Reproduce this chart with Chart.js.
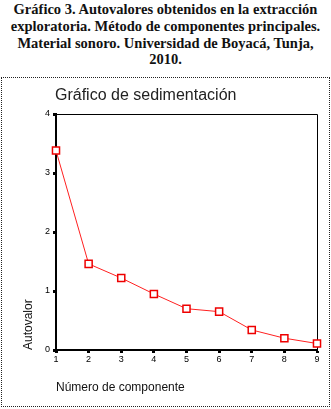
<!DOCTYPE html>
<html>
<head>
<meta charset="utf-8">
<script src="https://cdn.jsdelivr.net/npm/chart.js@4"></script>
<style>
    body { margin: 0; background: #fff; }
    #caption {
        position: absolute; left: 0; top: 1px; width: 331px;
        text-align: center; font: bold 14.5px "Liberation Serif", "Times New Roman", serif;
        line-height: 16.8px; color: #111; white-space: nowrap;
    }
    #box {
        position: absolute; left: 1px; top: 77px; width: 327px; height: 328px;
        border: 1px dotted #222;
    }
    #chart-title {
        position: absolute; left: 53px; top: 8px;
        font: 16px "Liberation Sans", Arial, sans-serif; color: #222;
    }
    #wrap { position: absolute; left: 1px; top: 1px; width: 327px; height: 327px; }
</style>
</head>
<body>
<div id="caption">Gráfico 3. Autovalores obtenidos en la extracción<br>exploratoria. Método de componentes principales.<br>Material sonoro. Universidad de Boyacá, Tunja,<br>2010.</div>
<div id="box">
    <div id="wrap"><canvas id="scree-chart"></canvas></div>
    <div id="chart-title">Gráfico de sedimentación</div>
</div>
<script>
// components and eigenvalues
var components = ["1", "2", "3", "4", "5", "6", "7", "8", "9"];
var eigenvalues = [3.38, 1.46, 1.22, 0.95, 0.70, 0.65, 0.34, 0.20, 0.11];
var yMax = 4;

// top and right lines of the plot frame
const frame = {
    id: 'frame',
    beforeDatasetsDraw: function(chart) {
        var a = chart.chartArea, ctx = chart.ctx;
        ctx.save();
        ctx.strokeStyle = '#000';
        ctx.lineWidth = 1;
        ctx.beginPath();
        ctx.moveTo(a.left, a.top + 0.5);
        ctx.lineTo(a.right + 0.5, a.top + 0.5);
        ctx.lineTo(a.right + 0.5, a.bottom);
        ctx.stroke();
        ctx.restore();
    }
};

const config = {
    type: 'line',
    data: {
        labels: components,
        datasets: [{
            data: eigenvalues,
            borderColor: '#ff2020',
            borderWidth: 1,
            pointStyle: 'rect',
            pointRadius: 5,
            pointBorderWidth: 1.5,
            pointBorderColor: '#ee0000',
            pointBackgroundColor: '#fff',
            tension: 0,
            clip: false
        }]
    },
    options: {
        responsive: true,
        maintainAspectRatio: false,
        animation: false,
        layout: { padding: { left: 14, right: 13, top: 35, bottom: 7 } },
        plugins: { legend: { display: false }, tooltip: { enabled: false } },
        scales: {
            x: {
                offset: false,
                afterFit: function(scale) { scale.height = 49; },
                grid: { drawOnChartArea: false, drawTicks: true, tickLength: 3, tickWidth: 3, tickColor: '#000' },
                border: { color: '#000', width: 2 },
                ticks: { autoSkip: false, maxRotation: 0, padding: 1, color: '#000', font: { family: 'Liberation Sans', size: 9 } },
                title: { display: true, text: 'Número de componente', align: 'start', color: '#111',
                    font: { family: 'Liberation Sans', size: 12 }, padding: { top: 0, bottom: 4 } }
            },
            y: {
                min: 0, max: yMax,
                afterFit: function(scale) { scale.width = 39; },
                grid: { drawOnChartArea: false, drawTicks: true, tickLength: 3, tickWidth: 3, tickColor: '#000' },
                border: { color: '#000', width: 2 },
                ticks: { stepSize: 1, padding: 3, color: '#000', font: { family: 'Liberation Sans', size: 9 } },
                title: { display: true, text: 'Autovalor', align: 'start', color: '#111',
                    font: { family: 'Liberation Sans', size: 12 }, padding: { top: 4, bottom: 0 } }
            }
        }
    },
    plugins: [frame]
};
const chart = new Chart(document.getElementById('scree-chart'), config);
</script>
</body>
</html>
